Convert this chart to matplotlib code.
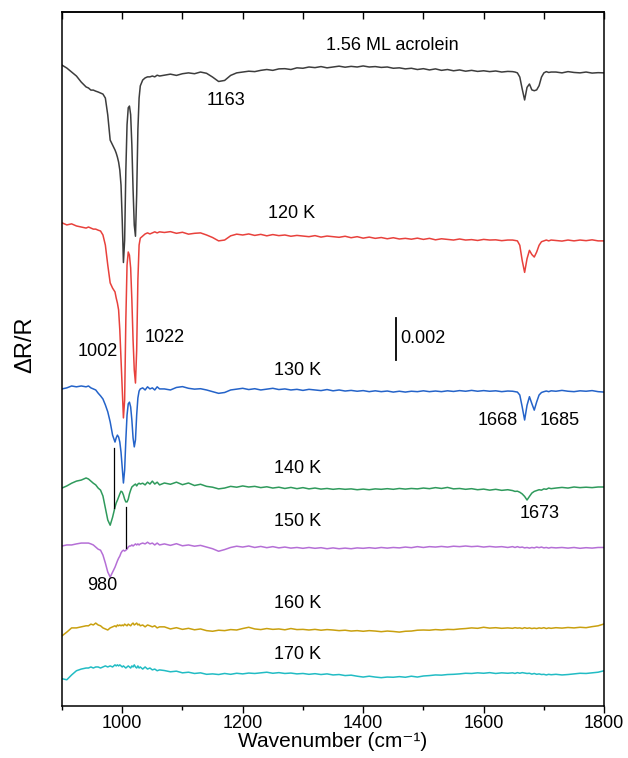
import numpy as np
import matplotlib.pyplot as plt

plt.rcParams['font.family'] = ['Liberation Sans', 'DejaVu Sans']

# wavenumber grid (cm-1): coarse on flat parts, fine around the bands
wn = np.concatenate([
    np.arange(900, 941, 8),
    np.arange(944, 989, 4),
    np.arange(990, 1031, 2),
    np.arange(1034, 1063, 4),
    np.arange(1070, 1641, 10),
    np.arange(1648, 1713, 4),
    np.arange(1720, 1801, 10),
])

# dR/R in units of 1e-3, each relative to its own baseline
s_156ML = [
    0.33, 0.19, 0.0, -0.19, -0.48, -0.71,
    -0.76, -0.86, -0.86, -0.91, -0.95, -1.0, -1.05, -1.24, -2.05, -3.24, -3.48, -3.71,
    -3.86, -4.05, -4.29, -4.67, -5.38, -7.05, -9.07, -8.02, -4.7, -2.51, -1.7,
    -1.62, -2.03, -3.48, -5.59, -7.29, -7.82, -5.83, -2.75, -1.24, -0.66,
    -0.38, -0.28, -0.23, -0.23, -0.19, -0.23, -0.15, -0.19,
    -0.15, -0.1, -0.16, -0.08, -0.04, -0.08, 0.0, -0.06, -0.24, -0.45,
    -0.4, -0.16, -0.04, 0.0, 0.04, 0.02, 0.08, 0.12, 0.08, 0.15,
    0.16, 0.12, 0.2, 0.18, 0.24, 0.21, 0.26, 0.2, 0.24, 0.28,
    0.23, 0.27, 0.24, 0.29, 0.24, 0.26, 0.22, 0.24, 0.18, 0.2,
    0.15, 0.18, 0.12, 0.16, 0.1, 0.15, 0.08, 0.12, 0.06, 0.1,
    0.04, 0.08, 0.03, 0.06, 0.02, 0.05, 0.0, 0.03,
    0.02, 0.0, -0.04, -0.24, -0.81, -1.33, -0.73, -0.57, -0.85, -0.89,
    -0.85, -0.65, -0.24, -0.04, 0.02, -0.02, 0.0,
    0.0, -0.04, 0.02, -0.02, -0.04, 0.0, -0.05, -0.03, -0.04,
]
s_120K = [
    0.58, 0.48, 0.53, 0.43, 0.38, 0.33,
    0.38, 0.33, 0.28, 0.28, 0.23, 0.19, 0.0, -0.48, -1.43, -2.28, -2.53, -2.71,
    -3.0, -3.24, -3.57, -4.53, -5.95, -7.38, -8.71, -7.86, -4.05, -1.43, -0.81,
    -0.96, -1.57, -3.09, -5.0, -6.43, -7.05, -5.48, -2.15, -0.48, -0.15,
    -0.05, 0.05, 0.1, 0.05, 0.1, 0.15, 0.1, 0.15,
    0.12, 0.16, 0.08, 0.13, 0.04, 0.08, 0.1, 0.0, -0.12, -0.28,
    -0.24, -0.04, 0.04, 0.0, 0.05, -0.02, 0.03, -0.04, 0.02, -0.03,
    0.0, -0.06, -0.02, -0.05, -0.08, -0.03, -0.1, -0.05, -0.08, -0.11,
    -0.06, -0.13, -0.08, -0.15, -0.1, -0.16, -0.12, -0.18, -0.13, -0.19,
    -0.16, -0.2, -0.15, -0.21, -0.16, -0.23, -0.18, -0.21, -0.24, -0.19,
    -0.24, -0.22, -0.26, -0.21, -0.24, -0.23, -0.27, -0.24,
    -0.24, -0.26, -0.28, -0.49, -1.22, -1.78, -1.13, -0.73, -0.93, -1.05,
    -0.81, -0.49, -0.32, -0.28, -0.24, -0.28, -0.24,
    -0.26, -0.29, -0.24, -0.28, -0.24, -0.27, -0.23, -0.28, -0.28,
]
s_130K = [
    0.05, 0.1, 0.19, 0.15, 0.19, 0.15,
    0.19, 0.1, 0.05, 0.0, -0.15, -0.28, -0.43, -0.71, -1.04, -1.52, -2.15, -2.48,
    -2.28, -2.15, -2.24, -2.48, -2.96, -3.72, -4.43, -3.82, -2.38, -1.19, -0.66,
    -0.58, -0.81, -1.43, -2.28, -2.71, -2.38, -1.19, -0.38, -0.05, 0.05,
    0.1, 0.0, 0.15, 0.05, 0.1, 0.0, 0.15, 0.05,
    0.05, 0.0, 0.12, 0.16, 0.08, 0.04, 0.06, 0.0, -0.08, -0.16,
    -0.12, 0.0, 0.04, 0.08, 0.02, 0.06, 0.0, 0.04, 0.08, 0.02,
    0.05, 0.0, 0.03, -0.02, 0.03, 0.0, -0.03, 0.02, -0.04, 0.0,
    -0.05, -0.02, -0.06, -0.03, -0.08, -0.04, -0.08, -0.05, -0.1, -0.06,
    -0.1, -0.06, -0.08, -0.04, -0.08, -0.05, -0.08, -0.04, -0.07, -0.03,
    -0.06, -0.02, -0.06, -0.03, -0.06, -0.04, -0.08, -0.05,
    -0.06, -0.08, -0.1, -0.24, -0.81, -1.43, -0.73, -0.32, -0.65, -0.96,
    -0.57, -0.24, -0.12, -0.08, -0.05, -0.08, -0.04,
    -0.06, -0.02, -0.06, -0.08, -0.04, -0.06, -0.03, -0.08, -0.1,
]
s_140K = [
    0.0, 0.1, 0.23, 0.33, 0.38, 0.48,
    0.43, 0.33, 0.23, 0.15, 0.0, -0.1, -0.38, -0.96, -1.52, -1.77, -1.39, -0.91,
    -0.71, -0.58, -0.43, -0.28, -0.15, -0.19, -0.33, -0.53, -0.66, -0.66, -0.53,
    -0.28, -0.1, 0.05, 0.1, 0.15, 0.19, 0.1, 0.19, 0.23, 0.19,
    0.23, 0.15, 0.28, 0.19, 0.33, 0.19, 0.28, 0.15,
    0.24, 0.18, 0.28, 0.16, 0.24, 0.12, 0.18, 0.08, 0.04, -0.04,
    0.0, 0.08, 0.04, 0.1, 0.05, 0.08, 0.02, 0.06, 0.0, 0.04,
    -0.02, 0.03, -0.03, 0.02, -0.04, 0.0, -0.05, -0.02, -0.06, -0.03,
    -0.06, -0.04, -0.08, -0.05, -0.08, -0.04, -0.06, -0.03, -0.06, -0.02,
    -0.05, -0.02, -0.04, 0.0, -0.03, 0.02, -0.02, 0.03, -0.04, -0.02,
    -0.06, -0.03, -0.08, -0.05, -0.1, -0.06, -0.11, -0.08,
    -0.12, -0.16, -0.15, -0.2, -0.28, -0.4, -0.57, -0.4, -0.24, -0.16,
    -0.12, -0.08, -0.1, -0.04, -0.06, 0.0, -0.03,
    0.0, 0.03, 0.0, 0.05, 0.02, 0.04, 0.02, 0.05, 0.05,
]
s_150K = [
    0.05, 0.1, 0.1, 0.15, 0.19, 0.19,
    0.19, 0.15, 0.1, 0.0, -0.1, -0.15, -0.38, -0.76, -1.19, -1.43, -1.19, -0.96,
    -0.81, -0.66, -0.53, -0.43, -0.28, -0.19, -0.15, -0.19, -0.15, -0.1, 0.0,
    0.05, 0.05, 0.1, 0.05, 0.1, 0.15, 0.1, 0.15, 0.1, 0.15,
    0.19, 0.15, 0.23, 0.15, 0.19, 0.1, 0.19, 0.1,
    0.15, 0.08, 0.16, 0.06, 0.1, 0.04, 0.08, 0.0, -0.08, -0.2,
    -0.12, -0.02, 0.04, 0.0, 0.05, -0.02, 0.03, -0.03, 0.02, -0.04,
    0.0, -0.05, -0.02, -0.06, -0.02, -0.06, -0.03, -0.08, -0.04, -0.08,
    -0.05, -0.08, -0.04, -0.06, -0.03, -0.06, -0.02, -0.05, -0.02, -0.04,
    0.0, -0.03, 0.02, -0.02, 0.02, 0.0, 0.03, 0.0, 0.04, 0.02,
    0.05, 0.02, 0.04, 0.0, 0.03, 0.0, 0.02, -0.02,
    0.02, -0.02, 0.02, -0.02, 0.0, -0.04, -0.02, -0.05, -0.02, -0.04,
    0.0, -0.03, 0.0, -0.04, -0.02, -0.05, -0.02,
    -0.04, -0.02, -0.05, -0.02, -0.06, -0.03, -0.05, -0.02, -0.02,
]
s_160K = [
    -0.33, -0.15, 0.05, 0.05, 0.1, 0.15,
    0.15, 0.23, 0.19, 0.28, 0.19, 0.15, 0.05, 0.0, -0.05, 0.05, 0.1, 0.15,
    0.1, 0.19, 0.15, 0.19, 0.15, 0.19, 0.15, 0.23, 0.19, 0.15, 0.23,
    0.19, 0.15, 0.23, 0.28, 0.19, 0.23, 0.28, 0.19, 0.23, 0.15,
    0.19, 0.1, 0.19, 0.15, 0.1, 0.15, 0.05, 0.1,
    0.1, 0.0, 0.06, -0.02, 0.03, -0.04, 0.0, -0.08, -0.11, -0.06,
    -0.08, -0.03, -0.05, 0.02, 0.08, 0.0, -0.03, 0.02, -0.02, 0.0,
    -0.04, 0.02, -0.03, -0.02, -0.05, -0.02, -0.06, -0.03, -0.05, -0.08,
    -0.06, -0.1, -0.08, -0.11, -0.08, -0.1, -0.13, -0.1, -0.12, -0.15,
    -0.11, -0.1, -0.06, -0.05, -0.06, -0.03, -0.05, -0.02, -0.03, 0.0,
    0.02, 0.05, 0.03, 0.08, 0.04, 0.06, 0.03, 0.05,
    0.03, 0.06, 0.04, 0.05, 0.02, 0.06, 0.03, 0.05, 0.02, 0.04,
    0.02, 0.05, 0.03, 0.06, 0.02, 0.05, 0.03,
    0.06, 0.04, 0.07, 0.05, 0.08, 0.06, 0.11, 0.15, 0.24,
]
s_170K = [
    -0.23, -0.28, -0.05, 0.15, 0.23, 0.28,
    0.28, 0.33, 0.28, 0.33, 0.33, 0.28, 0.33, 0.38, 0.33, 0.38, 0.33, 0.43,
    0.38, 0.43, 0.38, 0.43, 0.38, 0.33, 0.38, 0.33, 0.28, 0.33, 0.38,
    0.33, 0.28, 0.38, 0.33, 0.43, 0.33, 0.28, 0.38, 0.28, 0.33,
    0.23, 0.33, 0.23, 0.28, 0.19, 0.23, 0.15, 0.19,
    0.16, 0.1, 0.13, 0.05, 0.08, 0.02, 0.05, -0.02, 0.0, -0.03,
    0.02, -0.02, 0.03, 0.0, 0.04, 0.02, 0.05, 0.08, 0.03, 0.06,
    0.02, 0.04, 0.0, 0.02, -0.02, 0.01, -0.03, 0.0, -0.05, -0.03,
    -0.08, -0.06, -0.11, -0.15, -0.11, -0.15, -0.18, -0.15, -0.16, -0.13,
    -0.16, -0.11, -0.15, -0.1, -0.08, -0.05, -0.06, -0.03, -0.02, 0.0,
    0.03, 0.02, 0.05, 0.03, 0.06, 0.02, 0.05, 0.03,
    0.05, 0.02, 0.06, 0.03, 0.06, 0.04, 0.02, 0.03, -0.01, 0.02,
    -0.02, 0.0, -0.03, -0.02, -0.05, -0.02, -0.04,
    -0.02, -0.05, -0.03, 0.0, 0.03, 0.02, 0.05, 0.08, 0.15,
]

spectra = [s_156ML, s_120K, s_130K, s_140K, s_150K, s_160K, s_170K]
names = ["1.56 ML acrolein", "120 K", "130 K", "140 K", "150 K", "160 K", "170 K"]
offsets = [30.76, 23.0, 15.62, 10.95, 8.14, 4.24, 2.1]
colors = ["#3d3d3d", "#e8413c", "#2463c9", "#2f9a5c", "#b56fd6", "#c9a00f", "#22bcc4"]
name_pos = [(1448, 32.0), (1281, 24.0), (1291, 16.57), (1291, 11.9),
            (1291, 9.38), (1291, 5.43), (1291, 3.0)]

# band assignments: (text, x, y)
bands = [("1163", 1172, 29.4), ("1002", 959, 17.43), ("1022", 1071, 18.14),
         ("1668", 1623, 14.19), ("1685", 1727, 14.19), ("1673", 1693, 9.76),
         ("980", 967, 6.29)]

# guide lines between spectra: (x, y0, y1)
guides = [(986, 10.0, 12.86), (1007, 8.1, 10.05)]

bar_value = 2.0   # 0.002 in units of 1e-3
bar_x, bar_y0 = 1455, 17.05

fig = plt.figure(figsize=(6.28, 7.58), dpi=100)
ax = fig.add_axes([0.0987, 0.0686, 0.8633, 0.9156])

for s, off, col in zip(spectra, offsets, colors):
    ax.plot(wn, np.array(s) + off, color=col, lw=1.1)

for name, (x, y) in zip(names, name_pos):
    ax.text(x, y, name, ha="center", va="center", fontsize=13)

for t, x, y in bands:
    ax.text(x, y, t, ha="center", va="center", fontsize=13)

for x, y0, y1 in guides:
    ax.plot([x, x], [y0, y1], color="black", lw=0.9)

# scale bar
ax.plot([bar_x, bar_x], [bar_y0, bar_y0 + bar_value], color="black", lw=1.3)
ax.text(bar_x + 7, bar_y0 + bar_value / 2, "0.002", ha="left", va="center", fontsize=13)

ax.set_xlim(900, 1800)
ax.set_ylim(0.571, 33.62)
ax.set_yticks([])
ax.set_xticks(range(1000, 1801, 200))
ax.set_xticks(range(900, 1801, 200), minor=True)
ax.tick_params(axis="x", which="major", direction="out", length=5, width=1.0,
               labelsize=13, pad=1.5)
ax.tick_params(axis="x", which="minor", direction="out", length=3, width=1.0)

top = ax.secondary_xaxis("top")
top.set_xticks(range(900, 1801, 100))
top.tick_params(direction="in", length=5, width=1.0, labeltop=False)
top.spines["top"].set_linewidth(1.1)

for sp in ax.spines.values():
    sp.set_linewidth(1.1)

ax.set_xlabel("Wavenumber (cm⁻¹)", fontsize=15)
ax.xaxis.set_label_coords(0.5, -0.037)
ax.set_ylabel("ΔR/R", fontsize=17)
ax.yaxis.set_label_coords(-0.048, 0.52)

fig.savefig("out.png", dpi=100)
